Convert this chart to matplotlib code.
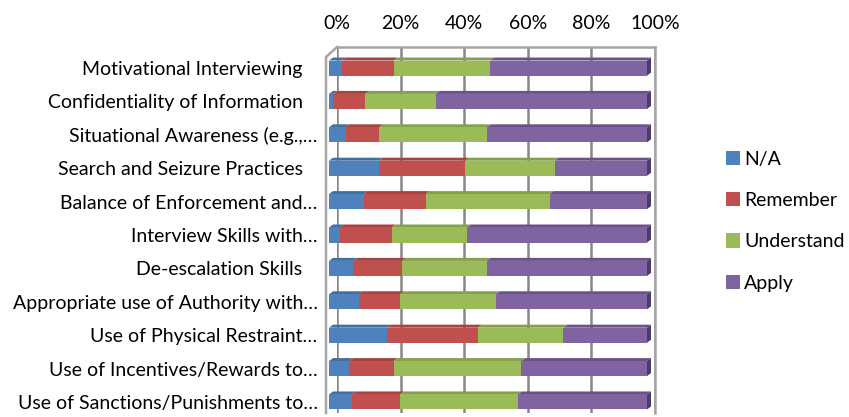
import numpy as np
import matplotlib
matplotlib.use("Agg")
import matplotlib.pyplot as plt
from matplotlib.patches import Polygon, Patch
from matplotlib.lines import Line2D

plt.rcParams['font.family'] = ['Lato', 'DejaVu Sans']

topics = [
    "Motivational Interviewing   ",
    "Confidentiality of Information   ",
    "Situational Awareness (e.g.,…",
    "Search and Seizure Practices   ",
    "Balance of Enforcement and…",
    "Interview Skills with…",
    "De-escalation Skills   ",
    "Appropriate use of Authority with…",
    "Use of Physical Restraint…",
    "Use of Incentives/Rewards to…",
    "Use of Sanctions/Punishments to…",
]

# shares in percent
na = [4.0, 1.4, 5.2, 15.8, 10.9, 3.5, 7.7, 9.4, 18.2, 6.4, 7.2]
remember = [16.4, 10.0, 10.6, 27.0, 19.5, 16.2, 15.3, 12.8, 28.7, 13.9, 15.0]
understand = [30.3, 22.1, 33.9, 28.2, 39.0, 23.7, 26.6, 30.3, 26.8, 40.2, 37.2]
apply_ = [49.3, 66.5, 50.3, 29.0, 30.6, 56.6, 50.4, 47.5, 26.3, 39.5, 40.6]

series = ["N/A", "Remember", "Understand", "Apply"]
colors = ["#4F81BD", "#C0504D", "#9BBB59", "#8064A2"]
tops = ["#41709F", "#A6423F", "#84A04A", "#6A5289"]

fig = plt.figure(figsize=(8.49, 4.17), dpi=100)
W, H = 849, 417
ax = fig.add_axes([337 / W, 1 - 413 / H, 318 / W, (413 - 47) / H])

ax.set_xlim(0, 1)
ax.set_ylim(10.33, -0.63)

data = np.array([na, remember, understand, apply_]) / 100.0
y = np.arange(len(topics))
bh = 0.45

# 3d look: front faces 8 px left of the back wall, depth 4 px right / 3 px up
shift = -8 / 318
dx = 4 / 318
dy = -3 / 33.4

left = np.zeros(len(topics))
for k in range(4):
    ax.barh(y, data[k], left=left + shift, height=bh, color=colors[k],
            zorder=3, clip_on=False)
    for i in range(len(topics)):
        x0 = left[i] + shift
        x1 = x0 + data[k][i]
        yt = y[i] - bh / 2
        ax.add_patch(Polygon([(x0, yt), (x1, yt), (x1 + dx, yt + dy), (x0 + dx, yt + dy)],
                             closed=True, facecolor=tops[k], edgecolor='none',
                             zorder=2, clip_on=False))
    left = left + data[k]

for i in range(len(topics)):
    xe = left[i] + shift
    yt = y[i] - bh / 2
    yb = y[i] + bh / 2
    ax.add_patch(Polygon([(xe, yt), (xe, yb), (xe + dx, yb + dy), (xe + dx, yt + dy)],
                         closed=True, facecolor="#4E3A6B", edgecolor='none',
                         zorder=2, clip_on=False))

ax.set_yticks(y)
ax.set_yticklabels(topics, fontsize=14)
ax.tick_params(axis='y', length=0, pad=14)

ax.xaxis.tick_top()
ax.set_xticks(np.linspace(0, 1, 6))
ax.set_xticklabels(["0%", "20%", "40%", "60%", "80%", "100%"], fontsize=14)
ax.tick_params(axis='x', length=0, pad=11)
ax.grid(axis='x', color='#878787', linewidth=1.8, zorder=0)
ax.set_axisbelow(True)

for s in ['left', 'bottom']:
    ax.spines[s].set_visible(False)
for s in ['top', 'right']:
    ax.spines[s].set_color('#A6A6A6')
    ax.spines[s].set_linewidth(1.8)

# side wall of the 3d box
ax.add_line(Line2D([-11 / 318, -11 / 318, 0], [0, 1 - 10 / 366, 1],
                   transform=ax.transAxes, color='#A6A6A6', linewidth=1.8,
                   clip_on=False))

handles = [Patch(facecolor=c, edgecolor='none') for c in colors]
fig.legend(handles, series, loc='upper left', bbox_to_anchor=(718 / W, 1 - 143 / H),
           frameon=False, fontsize=14, handlelength=0.75, handleheight=0.75,
           handletextpad=0.2, labelspacing=1.25, borderaxespad=0)

fig.savefig("out.png", dpi=100)
